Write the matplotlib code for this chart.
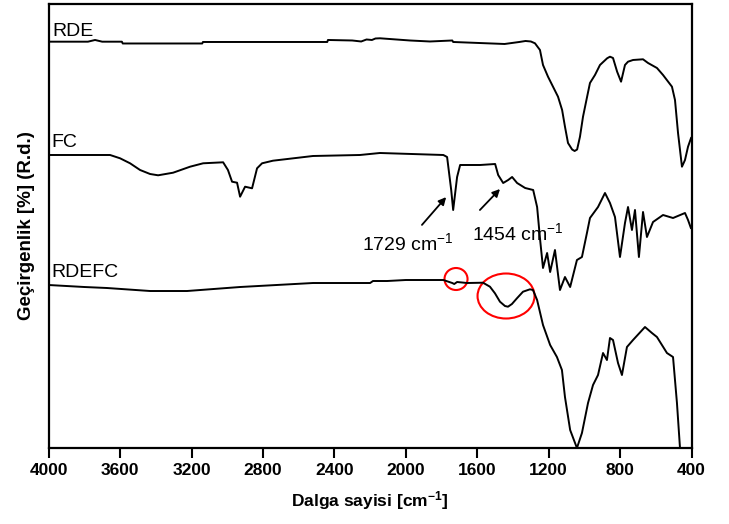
import numpy as np
import matplotlib
matplotlib.use("Agg")
import matplotlib.pyplot as plt
from matplotlib.patches import Ellipse

plt.rcParams['font.family'] = ['Liberation Sans', 'DejaVu Sans']
plt.rcParams['mathtext.default'] = 'regular'

# ---- spectra (wavenumber, relative transmittance, arbitrary offset units) ----
rde_wn = [4000, 3780, 3740, 3700, 3590, 3585, 3140, 3136, 2440, 2436, 2300, 2250, 2220,
          2190, 2170, 2145, 1977, 1865, 1740, 1735, 1447, 1365, 1330, 1300, 1277, 1249,
          1232, 1204, 1176, 1148, 1125, 1109, 1092, 1069, 1055, 1041, 1025, 1008, 985, 969,
          941, 913, 873, 857, 840, 817, 795, 773, 756, 728, 672, 644, 594, 560, 510,
          493, 476, 454, 437, 420, 403]
rde_t = [406.3, 406.3, 408, 406.3, 406.3, 404.5, 404.5, 406, 406, 408, 407.5, 406.5, 408.5,
         408, 409.5, 409.7, 407.5, 406.5, 407.5, 406, 404, 406, 407, 406.5, 404.7, 398,
         383, 371.3, 361.3, 351.3, 338, 321.3, 305, 298.5, 297, 298.5, 311.3, 331.3, 351.3, 365,
         373, 383, 389.7, 391.3, 390, 376.3, 366.3, 383, 386.3, 388, 388.7, 385, 380, 373, 361.3,
         348, 315, 281.3, 288, 301.3, 310]

fc_wn = [4000, 3656, 3600, 3544, 3488, 3432, 3387, 3303, 3208, 3135, 3023, 2996, 2973,
         2945, 2928, 2900, 2861, 2833, 2805, 2744, 2520, 2257, 2145, 1790, 1769, 1746,
         1735, 1713, 1696, 1584, 1500, 1483, 1455, 1427, 1405, 1377, 1332, 1287, 1265,
         1248, 1232, 1209, 1192, 1165, 1137, 1109, 1080, 1042, 1014, 986, 969, 924, 885,
         857, 829, 801, 773, 756, 734, 717, 695, 672, 650, 616, 560, 504, 437, 420, 404]
fc_t = [293, 293, 289.7, 284.7, 278, 274, 272.7, 275.3, 281.3, 284.7, 285.7, 278, 266.3,
        265.3, 251.3, 261.3, 259.7, 279.7, 284.7, 287.3, 292, 293, 295, 293, 291, 258,
        238, 271, 283, 283, 284, 273, 265, 268, 271, 265, 260, 258, 241,
        208, 180, 195, 176, 198, 158, 171, 161, 188, 191, 215, 230, 241, 255,
        245, 231, 191, 225, 241, 218, 238, 191, 236, 211, 226, 233, 230, 235, 228, 220]

rdefc_wn = [4000, 3900, 3800, 3673, 3432, 3225, 2928, 2520, 2200, 2184, 2105, 2000, 1790,
            1740, 1729, 1713, 1657, 1568, 1529, 1501, 1473, 1445, 1428, 1406, 1378, 1344,
            1305, 1288, 1265, 1232, 1192, 1154, 1126, 1109, 1080, 1042, 1014, 980, 952,
            924, 896, 874, 857, 840, 812, 790, 762, 728, 661, 622, 594, 538, 504, 482,
            465, 450]
rdefc_t = [163, 162, 161, 160, 157, 157, 161, 165, 165, 167, 167, 168, 168,
           165, 164, 166, 165, 165.3, 161.3, 154.7, 146.3, 142, 141.3, 144, 149.7, 156.3,
           158.7, 158, 148, 123, 103, 91, 78, 51, 18, 0, 15, 45, 63,
           73, 95, 88, 110, 108, 85, 73, 101, 108, 121, 115, 111, 95, 91, 45,
           0, -25]

labels = ["RDE", "FC", "RDEFC"]
label_pos = [(3981, 416), (3985, 305), (3985, 176)]

fig = plt.figure(figsize=(7.29, 5.24), dpi=100)
ax = fig.add_axes([0.0667, 0.145, 0.882, 0.8474])

for wn, t in [(rde_wn, rde_t), (fc_wn, fc_t), (rdefc_wn, rdefc_t)]:
    ax.plot(wn, t, color='black', lw=1.4)

for name, (x, y) in zip(labels, label_pos):
    ax.text(x, y, name, fontsize=14, va='center', ha='left')

# peak annotations
ax.text(2245, 205, "1729 cm$^{-1}$", fontsize=14, va='center', ha='left')
ax.text(1629, 215, "1454 cm$^{-1}$", fontsize=14, va='center', ha='left')
arrow = dict(arrowstyle='-|>', lw=1.3, color='black', mutation_scale=11)
ax.annotate("", xy=(1764, 253), xytext=(1920, 221), arrowprops=arrow)
ax.annotate("", xy=(1462, 261), xytext=(1596, 236), arrowprops=arrow)

ax.add_patch(Ellipse((1719, 169), 129, 22, fill=False, edgecolor='red', lw=1.5))
ax.add_patch(Ellipse((1439, 152), 319, 45, fill=False, edgecolor='red', lw=1.5))

ax.set_xlim(4000, 400)
ax.set_ylim(0, 444)
ax.set_xticks(np.arange(4000, 399, -400))
ax.set_yticks([])
ax.tick_params(axis='x', direction='out', length=7, width=1.5, labelsize=12.5, pad=4)
for lab in ax.get_xticklabels():
    lab.set_fontweight('bold')
for sp in ax.spines.values():
    sp.set_linewidth(1.6)

ax.set_xlabel("Dalga sayisi [cm$^{-1}$]", fontsize=12.5, fontweight='bold', labelpad=8)
ax.set_ylabel("Geçirgenlik [%] (R.d.)", fontsize=13.5, fontweight='bold', labelpad=10)

fig.savefig("out.png", dpi=100)
